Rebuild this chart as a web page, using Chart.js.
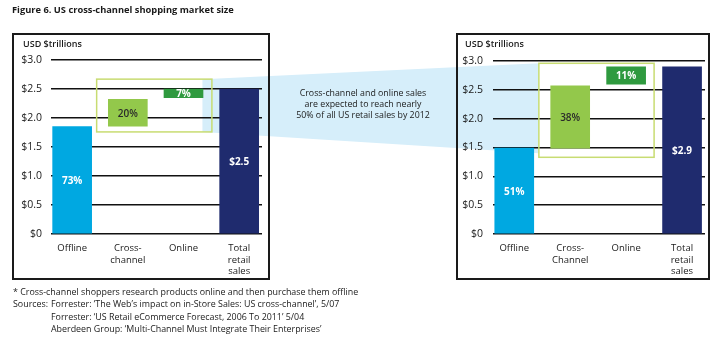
<!DOCTYPE html>
<html>
<head>
<meta charset="utf-8">
<script src="https://cdn.jsdelivr.net/npm/chart.js@4"></script>
<style>
  body { margin: 0; background: #fff; font-family: "Open Sans", sans-serif; color: #1a1a1a; }
  #page { position: relative; width: 717px; height: 349px; overflow: hidden; }
  .abs { position: absolute; }
  #funnel { left: 0; top: 0; z-index: 0; }
  .panel { border: 2px solid #1a1a1a; box-sizing: border-box; z-index: 2; top: 33px; height: 247px; }
  canvas.chart { z-index: 1; }
  .unit { font-size: 9px; font-weight: 600; z-index: 3; }
  #title { left: 12px; top: 3px; font-size: 9.3px; font-weight: 700; }
  #note { left: 290px; width: 146px; top: 88px; text-align: center; font-size: 8.8px; line-height: 11px; z-index: 3; }
  #foot { left: 13px; top: 286px; font-size: 8.9px; line-height: 12.3px; }
  #foot span { display: inline-block; width: 38px; }
  .ind { padding-left: 38px; }
</style>
</head>
<body>
<div id="page">
  <canvas id="funnel" class="abs" width="717" height="349"></canvas>
  <div id="title" class="abs">Figure 6. US cross-channel shopping market size</div>

  <canvas id="chartNow" class="abs chart" width="254" height="243" style="left:14px;top:35px"></canvas>
  <div class="abs panel" style="left:12px;width:258px"></div>
  <div class="abs unit" style="left:23px;top:37px">USD $trillions</div>

  <div id="note" class="abs">Cross-channel and online sales<br>are expected to reach nearly<br>50% of all US retail sales by 2012</div>

  <canvas id="chart2012" class="abs chart" width="250" height="243" style="left:458px;top:35px"></canvas>
  <div class="abs panel" style="left:456px;width:254px"></div>
  <div class="abs unit" style="left:465px;top:37px">USD $trillions</div>

  <div id="foot" class="abs">
    <div>* Cross-channel shoppers research products online and then purchase them offline</div>
    <div><span>Sources:</span>Forrester: ‘The Web’s impact on in-Store Sales: US cross-channel’, 5/07</div>
    <div class="ind">Forrester: ‘US Retail eCommerce Forecast, 2006 To 2011’ 5/04</div>
    <div class="ind">Aberdeen Group: ‘Multi-Channel Must Integrate Their Enterprises’</div>
  </div>
</div>

<script>
// categories (x axis labels, multi-line)
const categoriesNow = [['Offline'], ['Cross-', 'channel'], ['Online'], ['Total', 'retail', 'sales']];
const categories2012 = [['Offline'], ['Cross-', 'Channel'], ['Online'], ['Total', 'retail', 'sales']];

// floating bars: bottom and top in USD trillions
const bottomsNow = [0, 1.86, 2.35, 0];
const topsNow = [1.85, 2.32, 2.5, 2.5];
const labelsNow = ['73%', '20%', '7%', '$2.5'];

const bottoms2012 = [0, 1.49, 2.6, 0];
const tops2012 = [1.49, 2.57, 2.9, 2.9];
const labels2012 = ['51%', '38%', '11%', '$2.9'];

const yTicks = [0, 0.5, 1.0, 1.5, 2.0, 2.5, 3.0];

const barColors = ['#00a8e1', '#93c84b', '#2f9a3f', '#1f2b6e'];
const labelColors = ['#fff', '#2a2a2a', '#fff', '#fff'];
const FONT = '"Open Sans", sans-serif';

// highlighted region (cross-channel + online) in scale units
const boxNow = { x0: 0.44, x1: 2.51, y0: 1.76, y1: 2.67 };
const box2012 = { x0: 0.44, x1: 2.5, y0: 1.33, y1: 2.96 };

const barLabels = {
  id: 'barLabels',
  afterDatasetsDraw(chart, args, opts) {
    const ctx = chart.ctx;
    const meta = chart.getDatasetMeta(0);
    meta.data.forEach((bar, i) => {
      const p = bar.getProps(['x', 'y', 'base'], true);
      ctx.save();
      ctx.fillStyle = labelColors[i];
      ctx.font = (i === 1 ? '600 ' : 'bold ') + '10px ' + FONT;
      ctx.textAlign = 'center';
      ctx.textBaseline = 'middle';
      ctx.fillText(opts.labels[i], p.x, (p.y + p.base) / 2 + 1);
      ctx.restore();
    });
  }
};

const highlightBox = {
  id: 'highlightBox',
  afterDatasetsDraw(chart, args, opts) {
    const b = opts.box;
    const { x, y } = chart.scales;
    const ctx = chart.ctx;
    ctx.save();
    ctx.strokeStyle = '#c8dc72';
    ctx.lineWidth = 1.5;
    const l = x.getPixelForValue(b.x0), r = x.getPixelForValue(b.x1);
    const t = y.getPixelForValue(b.y1), bt = y.getPixelForValue(b.y0);
    ctx.strokeRect(l, t, r - l, bt - t);
    ctx.restore();
  }
};

function makeChart(id, cats, bottoms, tops, labels, box, yWidth, yPad, pad) {
  const ctx = document.getElementById(id).getContext('2d');
  return new Chart(ctx, {
    type: 'bar',
    data: {
      datasets: [{
        data: bottoms.map((b, i) => ({ x: i, y: [b, tops[i]] })),
        backgroundColor: barColors,
        borderWidth: 0,
        borderSkipped: false,
        barThickness: 39
      }]
    },
    options: {
      responsive: false,
      animation: false,
      events: [],
      layout: { padding: pad },
      plugins: {
        legend: { display: false },
        tooltip: { enabled: false },
        barLabels: { labels: labels },
        highlightBox: { box: box }
      },
      scales: {
        x: {
          type: 'linear',
          offset: false,
          min: -0.38,
          max: 3.41,
          grid: { display: false },
          border: { display: false },
          afterBuildTicks: axis => { axis.ticks = cats.map((c, i) => ({ value: i })); },
          afterFit: axis => { axis.height = 44; },
          ticks: {
            padding: 0,
            maxRotation: 0,
            autoSkip: false,
            color: '#1a1a1a',
            font: { family: FONT, size: 9.5, lineHeight: 1.25 },
            callback: v => cats[v]
          }
        },
        y: {
          min: 0,
          max: 3,
          afterBuildTicks: axis => { axis.ticks = yTicks.map(v => ({ value: v })); },
          afterFit: axis => { axis.width = yWidth; },
          grid: { color: '#111', lineWidth: 1.5, drawTicks: false },
          border: { display: false },
          ticks: {
            padding: yPad,
            color: '#1a1a1a',
            font: { family: FONT, size: 10.5 },
            callback: v => v === 0 ? '$0' : '$' + v.toFixed(1)
          }
        }
      }
    },
    plugins: [barLabels, highlightBox]
  });
}

const chartNow = makeChart('chartNow', categoriesNow, bottomsNow, topsNow, labelsNow, boxNow,
  37, 9, { left: 0, right: 6, top: 25, bottom: 0 });
const chart2012 = makeChart('chart2012', categories2012, bottoms2012, tops2012, labels2012, box2012,
  35, 10, { left: 0, right: 3, top: 26, bottom: 0 });

// light blue band joining the two highlighted regions
function drawFunnel() {
  const fc = document.getElementById('funnel').getContext('2d');
  const a = chartNow, b = chart2012;
  const ax = a.canvas.offsetLeft, ay = a.canvas.offsetTop;
  const bx = b.canvas.offsetLeft, by = b.canvas.offsetTop;
  const x0 = ax + a.scales.x.getPixelForValue(2.34);
  const x1 = bx + b.scales.x.getPixelForValue(box2012.x0);
  fc.fillStyle = '#d6eefa';
  fc.beginPath();
  fc.moveTo(x0, ay + a.scales.y.getPixelForValue(boxNow.y1));
  fc.lineTo(x1, by + b.scales.y.getPixelForValue(box2012.y1));
  fc.lineTo(x1, by + b.scales.y.getPixelForValue(1.4));
  fc.lineTo(x0, ay + a.scales.y.getPixelForValue(boxNow.y0));
  fc.closePath();
  fc.fill();
}
drawFunnel();
</script>
</body>
</html>
